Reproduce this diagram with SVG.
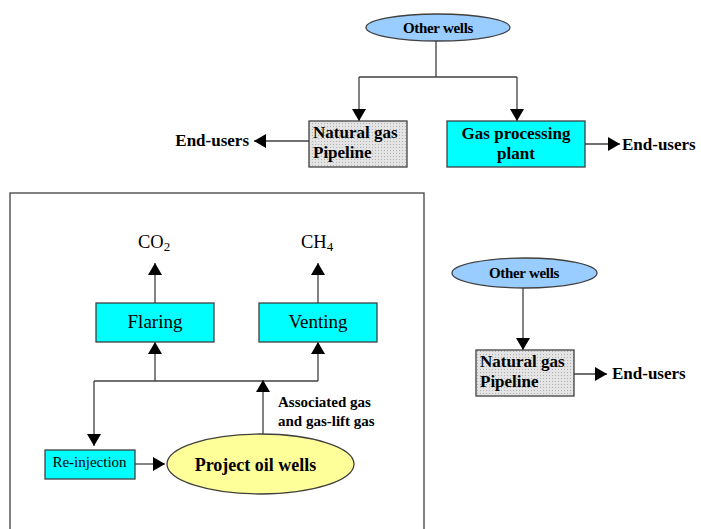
<svg xmlns="http://www.w3.org/2000/svg" width="701" height="529" viewBox="0 0 701 529">
<defs>
<marker id="ah" viewBox="0 0 12 14" refX="12" refY="7" markerWidth="12" markerHeight="14" markerUnits="userSpaceOnUse" orient="auto">
<path d="M0,0 L12,7 L0,14 Z" fill="#000"/>
</marker>
<pattern id="dots" width="3" height="3" patternUnits="userSpaceOnUse">
<rect width="3" height="3" fill="#e4e4e4"/>
<rect x="0" y="0" width="1" height="1" fill="#b0b0b0"/>
</pattern>
</defs>
<style>
.c{fill:none;stroke:#404040;stroke-width:1.3}
.a{marker-end:url(#ah)}
.box{stroke:#404040;stroke-width:1.3}
.cyan{fill:#00ffff}
.gray{fill:url(#dots)}
.b{font-weight:bold;fill:#000}
.r{fill:#000}
</style>
<rect width="701" height="529" fill="#fff"/>
<rect x="10" y="193" width="414" height="345" fill="none" stroke="#404040" stroke-width="1.3"/>
<g id="connectors">
<path class="c" d="M436,41 V77 M359,77 H517"/>
<path class="c a" d="M359,77 V121"/>
<path class="c a" d="M517,77 V121"/>
<path class="c a" d="M309,141 H254"/>
<path class="c a" d="M585,144 H620"/>
<path class="c a" d="M155,303 V263"/>
<path class="c a" d="M318,303 V263"/>
<path class="c" d="M94,381 H318"/>
<path class="c a" d="M155,381 V342"/>
<path class="c a" d="M318,381 V342"/>
<path class="c a" d="M263,434 V380"/>
<path class="c a" d="M94,381 V446"/>
<path class="c a" d="M135,464 H165"/>
<path class="c a" d="M523,288 V350"/>
<path class="c a" d="M574,374 H607"/>
</g>
<g font-family="'Liberation Serif','DejaVu Serif','Times New Roman',serif">
<g id="other-wells-1">
<ellipse cx="438" cy="27.5" rx="72" ry="13.5" fill="#99ccff" stroke="#404040" stroke-width="1.3"/>
<text class="b" x="438" y="32.5" font-size="15" text-anchor="middle" letter-spacing="-0.3">Other wells</text>
</g>
<g id="pipeline-1">
<rect class="box gray" x="309" y="121" width="98" height="46"/>
<text class="b" x="313" y="138" font-size="17">Natural gas</text>
<text class="b" x="313" y="158" font-size="17">Pipeline</text>
</g>
<g id="gas-processing">
<rect class="box cyan" x="447" y="121" width="138" height="46"/>
<text class="b" x="516" y="139" font-size="17" text-anchor="middle">Gas processing</text>
<text class="b" x="516" y="159" font-size="17" text-anchor="middle">plant</text>
</g>
<g id="end-users-1"><text class="b" x="249" y="146" font-size="17" text-anchor="end">End-users</text></g>
<g id="end-users-2"><text class="b" x="622" y="150" font-size="17">End-users</text></g>
<g id="co2"><text class="r" x="138" y="248" font-size="18.5">CO<tspan font-size="13" dy="3">2</tspan></text></g>
<g id="ch4"><text class="r" x="301" y="248" font-size="18.5">CH<tspan font-size="13" dy="3">4</tspan></text></g>
<g id="flaring">
<rect class="box cyan" x="96" y="303" width="118" height="39"/>
<text class="r" x="155" y="328" font-size="19" text-anchor="middle">Flaring</text>
</g>
<g id="venting">
<rect class="box cyan" x="259" y="303" width="118" height="39"/>
<text class="r" x="318" y="328" font-size="19" text-anchor="middle">Venting</text>
</g>
<g id="associated-gas">
<text class="b" x="278" y="407" font-size="15">Associated gas</text>
<text class="b" x="278" y="426" font-size="15">and gas-lift gas</text>
</g>
<g id="re-injection">
<rect class="box cyan" x="45" y="450" width="90" height="29"/>
<text class="r" x="89.5" y="467" font-size="15" text-anchor="middle">Re-injection</text>
</g>
<g id="project-oil-wells">
<ellipse cx="260.5" cy="464" rx="93.5" ry="30" fill="#ffff99" stroke="#404040" stroke-width="1.3"/>
<text class="b" x="255.5" y="471" font-size="18" text-anchor="middle">Project oil wells</text>
</g>
<g id="other-wells-2">
<ellipse cx="524.5" cy="273" rx="72.5" ry="15" fill="#99ccff" stroke="#404040" stroke-width="1.3"/>
<text class="b" x="524" y="278" font-size="15" text-anchor="middle" letter-spacing="-0.3">Other wells</text>
</g>
<g id="pipeline-2">
<rect class="box gray" x="476" y="350" width="98" height="46"/>
<text class="b" x="480" y="367" font-size="17">Natural gas</text>
<text class="b" x="480" y="387" font-size="17">Pipeline</text>
</g>
<g id="end-users-3"><text class="b" x="612" y="379" font-size="17">End-users</text></g>
</g>
</svg>
